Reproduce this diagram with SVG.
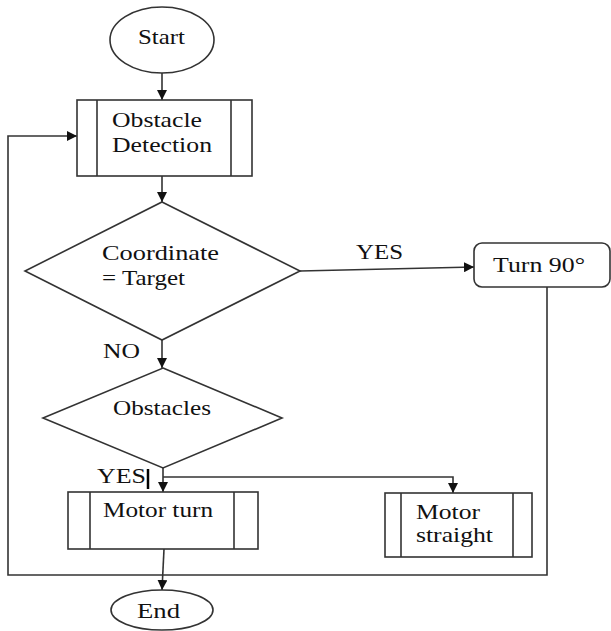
<svg xmlns="http://www.w3.org/2000/svg" width="611" height="631" viewBox="0 0 611 631">
<style>
.s{fill:#fff;stroke:#333;stroke-width:1.6}
.c{fill:none;stroke:#333;stroke-width:1.6}
text{font-family:'Liberation Serif','DejaVu Serif','Times New Roman',serif;font-size:21px;fill:#111}
</style>
<defs>
<marker id="a" viewBox="0 0 10 10" refX="10" refY="5" markerWidth="10" markerHeight="10" markerUnits="userSpaceOnUse" orient="auto">
<path d="M0,0L10,5L0,10z" fill="#111"/>
</marker>
</defs>
<rect width="611" height="631" fill="#fff"/>
<g id="connectors">
<line class="c" x1="162" y1="73" x2="162" y2="100" marker-end="url(#a)"/>
<line class="c" x1="162" y1="176" x2="162" y2="202" marker-end="url(#a)"/>
<line class="c" x1="300" y1="271" x2="474" y2="267" marker-end="url(#a)"/>
<line class="c" x1="162" y1="340" x2="162" y2="368" marker-end="url(#a)"/>
<line class="c" x1="163" y1="468" x2="163" y2="492" marker-end="url(#a)"/>
<polyline class="c" points="163,477 453,477 453,493" marker-end="url(#a)"/>
<line class="c" x1="164" y1="549" x2="162" y2="590" marker-end="url(#a)"/>
<polyline class="c" points="547,287 547,575 8,575 8,136 77,136" marker-end="url(#a)"/>
<line x1="148" y1="469" x2="148" y2="489" stroke="#000" stroke-width="2.5"/>
</g>
<g id="start">
<ellipse class="s" cx="162" cy="40" rx="52" ry="33"/>
<text x="138" y="44" textLength="47" lengthAdjust="spacingAndGlyphs">Start</text>
</g>
<g id="obstacle-detection">
<rect class="s" x="77" y="100" width="175" height="76"/>
<line class="c" x1="97" y1="100" x2="97" y2="176"/>
<line class="c" x1="231" y1="100" x2="231" y2="176"/>
<text x="112" y="127" textLength="90" lengthAdjust="spacingAndGlyphs">Obstacle</text>
<text x="112" y="152" textLength="100" lengthAdjust="spacingAndGlyphs">Detection</text>
</g>
<g id="coordinate">
<polygon class="s" points="162,202 300,271 162,340 25,271"/>
<text x="102" y="260" textLength="117" lengthAdjust="spacingAndGlyphs">Coordinate</text>
<text x="102" y="285" textLength="83" lengthAdjust="spacingAndGlyphs">= Target</text>
</g>
<g id="turn90">
<rect class="s" x="474" y="243" width="136" height="44" rx="8"/>
<text x="493" y="272" textLength="92" lengthAdjust="spacingAndGlyphs">Turn 90°</text>
</g>
<g id="obstacles">
<polygon class="s" points="163,368 282,418 163,468 43,418"/>
<text x="113" y="415" textLength="98" lengthAdjust="spacingAndGlyphs">Obstacles</text>
</g>
<g id="motor-turn">
<rect class="s" x="68" y="492" width="190" height="57"/>
<line class="c" x1="90" y1="492" x2="90" y2="549"/>
<line class="c" x1="234" y1="492" x2="234" y2="549"/>
<text x="103" y="517" textLength="110" lengthAdjust="spacingAndGlyphs">Motor turn</text>
</g>
<g id="motor-straight">
<rect class="s" x="385" y="493" width="147" height="64"/>
<line class="c" x1="401" y1="493" x2="401" y2="557"/>
<line class="c" x1="513" y1="493" x2="513" y2="557"/>
<text x="416" y="519" textLength="64" lengthAdjust="spacingAndGlyphs">Motor</text>
<text x="416" y="542" textLength="77" lengthAdjust="spacingAndGlyphs">straight</text>
</g>
<g id="end">
<ellipse class="s" cx="162" cy="610" rx="51" ry="20"/>
<text x="137" y="618" textLength="43" lengthAdjust="spacingAndGlyphs">End</text>
</g>
<g id="labels">
<text x="356" y="259" textLength="47" lengthAdjust="spacingAndGlyphs">YES</text>
<text x="103" y="358" textLength="37" lengthAdjust="spacingAndGlyphs">NO</text>
<text x="97" y="483" textLength="49" lengthAdjust="spacingAndGlyphs">YES</text>
</g>
</svg>
